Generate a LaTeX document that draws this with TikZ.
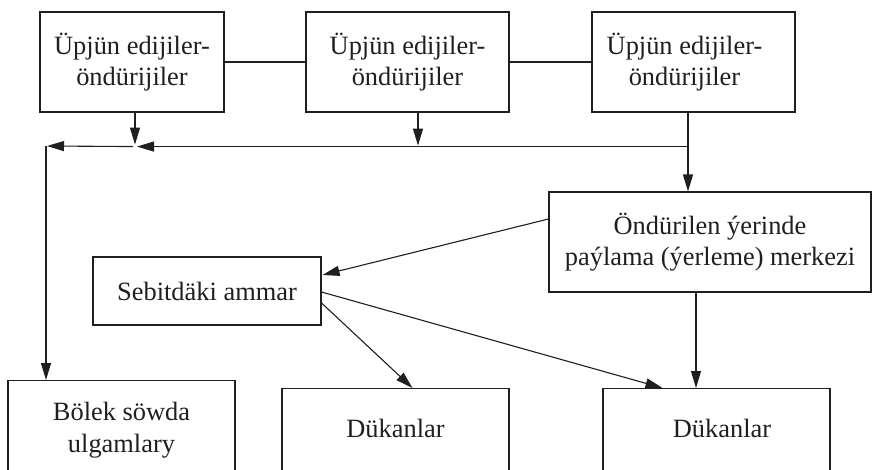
\documentclass[tikz,border=0pt]{standalone}
\usepackage{fontspec}
\setmainfont{Liberation Serif}
\usetikzlibrary{arrows.meta,calc}
\begin{document}
\begin{tikzpicture}[x=1pt,y=-1pt,line width=1.1pt,color={black!88},
  box/.style={draw,line width=1.1pt,inner sep=0pt,align=center,font=\fontsize{26.4}{31}\selectfont},
  txt/.style={inner sep=0pt,align=center,font=\fontsize{26.4}{32}\selectfont},
  arr/.style={-{Triangle[length=17pt,width=10pt]}}]
\useasboundingbox (0,0) rectangle (872,469);
\clip (0,0) rectangle (872,469);
% top row
\node[box,minimum width=184pt,minimum height=100pt] (b1) at (132,62) {Üpjün edijiler-\\öndürijiler};
\node[box,minimum width=203pt,minimum height=100pt] (b2) at (407.5,62) {Üpjün edijiler-\\öndürijiler};
\node[box,minimum width=203pt,minimum height=100pt] (b3) at (693.5,62) {Üpjün edijiler-\hspace*{18pt}\\öndürijiler\hspace*{18pt}};
% middle
\node[box,minimum width=322pt,minimum height=100pt] (ond) at (710,242) {Öndürilen ýerinde\\paýlama (ýerleme) merkezi};
\node[box,minimum width=228pt,minimum height=68pt] (seb) at (207,291) {Sebitdäki ammar};
% bottom boxes (cut by the lower edge)
\node[draw,line width=1.1pt,anchor=north,minimum width=227pt,minimum height=150pt] (b0) at (121.5,380) {};
\node[txt] (t0) at (121.5,430) {Bölek söwda\\ulgamlary};
\node[draw,line width=1.1pt,anchor=north,minimum width=227pt,minimum height=150pt] (d1) at (395.5,388) {};
\node[txt] (td1) at (395.5,428) {Dükanlar};
\node[draw,line width=1.1pt,anchor=north,minimum width=227pt,minimum height=150pt] (d2) at (716.5,388) {};
\node[txt] (td2) at (722,428) {Dükanlar};
% connections of the top row
\draw (b1) -- (b2);
\draw (b2) -- (b3);
\coordinate (v3) at ($(b3.south)+(-5.5,0)$);
\coordinate (j3) at ($(v3)+(0,34)$);
\coordinate (j1) at ($(b1.south)+(3,34)$);
\coordinate (lc) at ($(b0.north)+(-75.5,-234)$);
\draw[arr] (v3) -- (v3 |- ond.north);
\draw[arr] (j3) -- ($(j1)+(2,0)$);
\draw[arr] ($(j1)+(-2,0)$) -- ($(lc)+(1,0)$);
\draw[arr] (lc) -- (lc |- b0.north);
\draw[arr] (b1.south -| j1) -- ($(j1)+(0,-2)$);
\coordinate (v2) at ($(b2.south)+(10.5,0)$);
\draw[arr] (v2) -- ($(v2)+(0,33)$);
% lower connections
\draw[arr] ($(ond.west)+(0,-23)$) -- ($(seb.east)+(1,-16)$);
\draw[arr] ($(seb.east)+(0,1)$) -- ($(d2.north west)+(60,0)$);
\draw[arr] ($(seb.east)+(0,12)$) -- ($(d1.north west)+(131,0)$);
\coordinate (v4) at ($(ond.south)+(-14,0)$);
\draw[arr] (v4) -- (v4 |- d2.north);
\end{tikzpicture}
\end{document}
